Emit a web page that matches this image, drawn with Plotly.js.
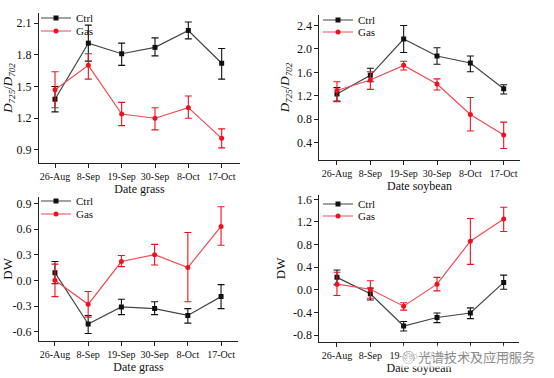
<!DOCTYPE html>
<html><head><meta charset="utf-8">
<script src="https://cdn.plot.ly/plotly-3.0.1.min.js"></script>
<style>html,body{margin:0;padding:0;background:#fff}#c{width:554px;height:378px}</style>
</head><body><div id="c"></div>
<script>
const dates = ['26-Aug','8-Sep','19-Sep','30-Sep','8-Oct','17-Oct'];

// Panel A: D725/D702 grass
const grassRatioCtrl = [1.38, 1.91, 1.81, 1.87, 2.03, 1.72];
const grassRatioCtrlUp = [0.12, 0.17, 0.10, 0.09, 0.08, 0.14];
const grassRatioCtrlDn = [0.12, 0.17, 0.11, 0.08, 0.08, 0.15];
const grassRatioGas = [1.47, 1.70, 1.24, 1.20, 1.30, 1.01];
const grassRatioGasUp = [0.17, 0.11, 0.11, 0.10, 0.11, 0.09];
const grassRatioGasDn = [0.17, 0.13, 0.11, 0.11, 0.10, 0.09];

// Panel B: D725/D702 soybean
const soyRatioCtrl = [1.23, 1.55, 2.17, 1.88, 1.76, 1.32];
const soyRatioCtrlUp = [0.11, 0.12, 0.23, 0.14, 0.12, 0.07];
const soyRatioCtrlDn = [0.12, 0.11, 0.23, 0.14, 0.15, 0.09];
const soyRatioGas = [1.29, 1.47, 1.72, 1.40, 0.88, 0.53];
const soyRatioGasUp = [0.15, 0.14, 0.07, 0.09, 0.29, 0.22];
const soyRatioGasDn = [0.19, 0.16, 0.08, 0.10, 0.28, 0.23];

// Panel C: DW grass
const grassDwCtrl = [0.09, -0.51, -0.31, -0.33, -0.41, -0.19];
const grassDwCtrlUp = [0.13, 0.10, 0.09, 0.08, 0.08, 0.14];
const grassDwCtrlDn = [0.13, 0.11, 0.09, 0.07, 0.09, 0.14];
const grassDwGas = [0.00, -0.28, 0.22, 0.30, 0.15, 0.63];
const grassDwGasUp = [0.19, 0.15, 0.07, 0.12, 0.41, 0.23];
const grassDwGasDn = [0.19, 0.15, 0.06, 0.12, 0.40, 0.22];

// Panel D: DW soybean
const soyDwCtrl = [0.22, -0.07, -0.64, -0.49, -0.41, 0.13];
const soyDwCtrlUp = [0.13, 0.10, 0.08, 0.08, 0.09, 0.13];
const soyDwCtrlDn = [0.13, 0.11, 0.09, 0.09, 0.10, 0.12];
const soyDwGas = [0.10, 0.01, -0.29, 0.10, 0.86, 1.25];
const soyDwGasUp = [0.21, 0.15, 0.06, 0.12, 0.40, 0.21];
const soyDwGasDn = [0.20, 0.16, 0.07, 0.12, 0.41, 0.22];

const ticksA = [0.9, 1.2, 1.5, 1.8, 2.1];
const ticksAText = ['0.9','1.2','1.5','1.8','2.1'];
const ticksB = [0.4, 0.8, 1.2, 1.6, 2.0, 2.4];
const ticksBText = ['0.4','0.8','1.2','1.6','2.0','2.4'];
const ticksC = [-0.6, -0.3, 0.0, 0.3, 0.6, 0.9];
const ticksCText = ['-0.6','-0.3','0.0','0.3','0.6','0.9'];
const ticksD = [-0.8, -0.4, 0.0, 0.4, 0.8, 1.2, 1.6];
const ticksDText = ['-0.8','-0.4','0.0','0.4','0.8','1.2','1.6'];

const CTRL = '#111111', GAS = '#f01020';
const CTRL_LINE = '#444444', GAS_LINE = '#f04a55';
const W = 554, H = 378;
const px = v => v / W, py = v => 1 - v / H;

function tr(y, up, dn, name, color, sym, ax, leg, line) {
  return {
    x: dates, y: y, name: name, type: 'scatter', mode: 'lines+markers',
    xaxis: 'x' + ax, yaxis: 'y' + ax, legend: leg,
    line: {color: line, width: 1.2},
    marker: {color: color, symbol: sym, size: 5},
    error_y: {type: 'data', symmetric: false, array: up, arrayminus: dn,
              color: color, thickness: 1.1, width: 3.5}
  };
}
const data = [
  tr(grassRatioCtrl, grassRatioCtrlUp, grassRatioCtrlDn, 'Ctrl', CTRL, 'square', '', 'legend', CTRL_LINE),
  tr(grassRatioGas, grassRatioGasUp, grassRatioGasDn, 'Gas', GAS, 'circle', '', 'legend2', GAS_LINE),
  tr(soyRatioCtrl, soyRatioCtrlUp, soyRatioCtrlDn, 'Ctrl', CTRL, 'square', '2', 'legend3', CTRL_LINE),
  tr(soyRatioGas, soyRatioGasUp, soyRatioGasDn, 'Gas', GAS, 'circle', '2', 'legend4', GAS_LINE),
  tr(grassDwCtrl, grassDwCtrlUp, grassDwCtrlDn, 'Ctrl', CTRL, 'square', '3', 'legend5', CTRL_LINE),
  tr(grassDwGas, grassDwGasUp, grassDwGasDn, 'Gas', GAS, 'circle', '3', 'legend6', GAS_LINE),
  tr(soyDwCtrl, soyDwCtrlUp, soyDwCtrlDn, 'Ctrl', CTRL, 'square', '4', 'legend7', CTRL_LINE),
  tr(soyDwGas, soyDwGasUp, soyDwGasDn, 'Gas', GAS, 'circle', '4', 'legend8', GAS_LINE)
];
data[0].xaxis = 'x'; data[0].yaxis = 'y';
data[1].xaxis = 'x'; data[1].yaxis = 'y';

const FONT = 'Liberation Serif, Times New Roman, serif';
function xa(dom, rng, anchor, title) {
  return {domain: dom, range: rng, anchor: anchor, type: 'category',
    showline: true, linecolor: '#222', linewidth: 1, ticks: 'outside', ticklen: 4,
    tickcolor: '#222', showgrid: false, zeroline: false, automargin: false,
    tickfont: {family: FONT, size: 10, color: '#111'},
    title: {text: title, font: {family: FONT, size: 12, color: '#111'}, standoff: 0}};
}
function ya(dom, rng, anchor, vals, txt, title) {
  return {domain: dom, range: rng, anchor: anchor,
    showline: true, linecolor: '#222', linewidth: 1, ticks: 'outside', ticklen: 4,
    tickcolor: '#222', showgrid: false, zeroline: false, automargin: false,
    tickvals: vals, ticktext: txt,
    tickfont: {family: FONT, size: 12, color: '#111'},
    title: {text: title, font: {family: FONT, size: 13, color: '#111'}, standoff: 4}};
}
// legend item centre offset below legend top is ~15.5px; text starts ~38px right of legend left
function lg(textX, centreY) {
  return {x: px(textX - 38), y: py(centreY - 15.5), xanchor: 'left', yanchor: 'top',
    bgcolor: 'rgba(0,0,0,0)', font: {family: FONT, size: 11, color: '#111'}, itemwidth: 30};
}
const ratioTitle = '<i>D</i><sub><i>725</i></sub>/<i>D</i><sub><i>702</i></sub>';
const layout = {
  width: W, height: H, margin: {l: 0, r: 0, t: 0, b: 0},
  paper_bgcolor: '#fff', plot_bgcolor: '#fff', showlegend: true,
  xaxis: xa([px(39), px(240)], [-0.48, 5.55], 'y', 'Date grass'),
  yaxis: ya([py(163), py(13)], [0.777, 2.195], 'x', ticksA, ticksAText, ratioTitle),
  xaxis2: xa([px(319.3), px(519.7)], [-0.53, 5.48], 'y2', 'Date soybean'),
  yaxis2: ya([py(160), py(15)], [0.104, 2.58], 'x2', ticksB, ticksBText, ratioTitle),
  xaxis3: xa([px(39), px(238)], [-0.48, 5.51], 'y3', 'Date grass'),
  yaxis3: ya([py(340.7), py(197)], [-0.705, 0.974], 'x3', ticksC, ticksCText, 'DW'),
  xaxis4: xa([px(319.3), px(518.7)], [-0.53, 5.45], 'y4', 'Date soybean'),
  yaxis4: ya([py(341.7), py(195)], [-0.918, 1.676], 'x4', ticksD, ticksDText, 'DW'),
  legend: lg(74, 19),
  legend2: lg(74, 32),
  legend3: lg(356, 21),
  legend4: lg(356, 33),
  legend5: lg(74, 202),
  legend6: lg(74, 215),
  legend7: lg(356, 205),
  legend8: lg(356, 217),
  annotations: [{
    xref: 'paper', yref: 'paper', x: px(400), y: py(356), xanchor: 'left', yanchor: 'middle',
    text: '◎ 光谱技术及应用服务', showarrow: false,
    font: {family: 'Noto Sans CJK SC', size: 13, color: 'rgba(120,120,120,0.85)'},
    bgcolor: 'rgba(255,255,255,0.75)'
  }]
};
Plotly.newPlot('c', data, layout, {displayModeBar: false, staticPlot: true});
</script></body></html>
